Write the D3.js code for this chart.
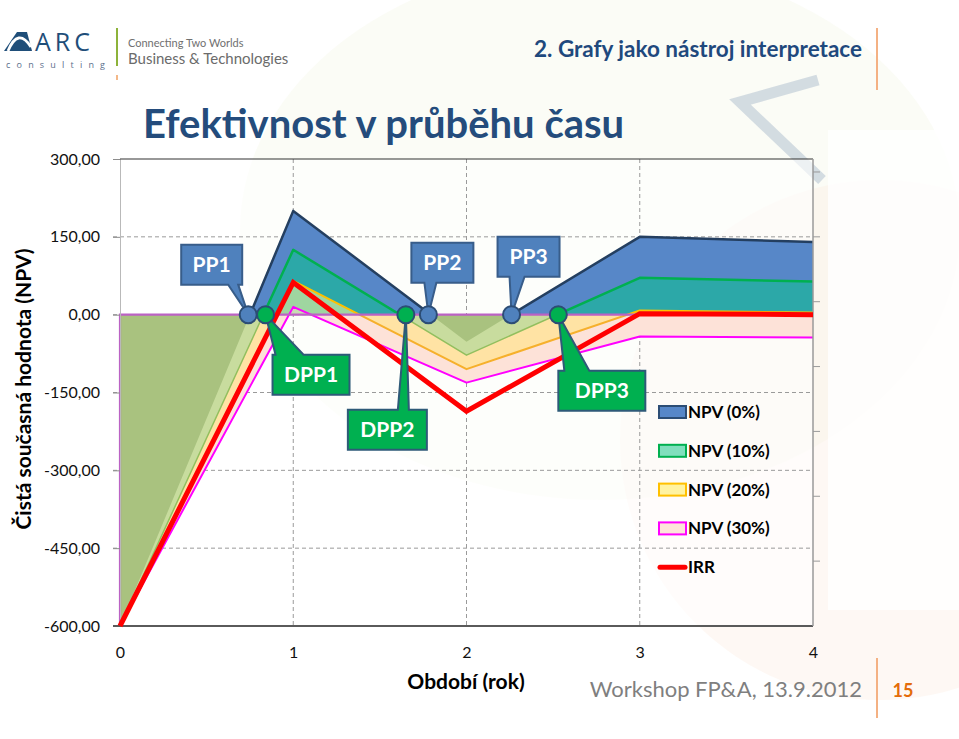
<!DOCTYPE html>
<html lang="cs">
<head>
<meta charset="UTF-8">
<title>Efektivnost v průběhu času</title>
<script src="https://d3js.org/d3.v7.min.js"></script>
<style>
  body { margin: 0; background: #fff; font-family: Lato, "Open Sans", sans-serif; }
  svg { display: block; }
</style>
</head>
<body>
<div id="chart"></div>
<script>
// ---- data ----
var periods = [0, 1, 2, 3, 4];
var npv0  = [-600, 200, -52, 150, 140];
var npv10 = [-600, 125, -78, 71, 64];
var npv20 = [-600, 65, -105, 8, 4];
var npv30 = [-600, 15, -131, -42, -44];
var irr   = [-600, 62, -186, 2, 0];

var legendNames = ['NPV (0%)', 'NPV (10%)', 'NPV (20%)', 'NPV (30%)', 'IRR'];
var yTicks = [300, 150, 0, -150, -300, -450, -600];
var xTicks = [0, 1, 2, 3, 4];

// payback points (where the lines cross zero)
var ppLabels = ['PP1', 'PP2', 'PP3'];
var ppX = [0.74, 1.78, 2.26];
var dppLabels = ['DPP1', 'DPP2', 'DPP3'];
var dppX = [0.84, 1.65, 2.53];

var W = 959, H = 739;
var m = {top: 159, left: 120, right: 146, bottom: 113};

var svg = d3.select('#chart').append('svg')
    .attr('width', W)
    .attr('height', H);

var defs = svg.append('defs');

// ---- faint slide background decoration ----
var deco = svg.append('g').attr('id', 'deco');
deco.append('ellipse')
    .attr('cx', 600).attr('cy', 230).attr('rx', 360).attr('ry', 270)
    .style('fill', '#f3f6e4').style('opacity', 0.35);
deco.append('circle')
    .attr('cx', 880).attr('cy', 440).attr('r', 260)
    .style('fill', '#fdeee3').style('opacity', 0.4);
deco.append('path')
    .attr('d', 'M818,80 L740,102 L822,180')
    .style('fill', 'none').style('stroke', '#b9c6d3')
    .style('stroke-width', 11).style('opacity', 0.6);
deco.append('rect')
    .attr('x', 828).attr('y', 130).attr('width', 131).attr('height', 480)
    .style('fill', '#fff').style('opacity', 0.8);

var x = d3.scaleLinear().domain([0, 4]).range([m.left, W - m.right]);
var y = d3.scaleLinear().domain([-600, 300]).range([H - m.bottom, m.top]);
var y0 = y(0);

// plot background
svg.append('rect')
    .attr('x', x(0)).attr('y', y(300))
    .attr('width', x(4) - x(0)).attr('height', y(-600) - y(300))
    .style('fill', '#fff').style('opacity', 0.6);

// ---- grid ----
var grid = svg.append('g').attr('id', 'grid');
grid.selectAll('line.h')
    .data(yTicks.filter(function(d){ return d > -600 && d < 300; }))
    .enter().append('line')
    .attr('x1', x(0) - 7).attr('x2', x(4))
    .attr('y1', function(d){ return y(d); })
    .attr('y2', function(d){ return y(d); })
    .style('stroke', '#9a9a9a').style('stroke-dasharray', '4,3');
grid.selectAll('line.v')
    .data([1, 2, 3])
    .enter().append('line')
    .attr('x1', function(d){ return x(d); })
    .attr('x2', function(d){ return x(d); })
    .attr('y1', y(300)).attr('y2', y(-600))
    .style('stroke', '#9a9a9a').style('stroke-dasharray', '4,3');

// clip paths for the parts above and below zero
defs.append('clipPath').attr('id', 'clipPos')
    .append('rect').attr('x', 0).attr('y', 0).attr('width', W).attr('height', y0);
defs.append('clipPath').attr('id', 'clipNeg')
    .append('rect').attr('x', 0).attr('y', y0).attr('width', W).attr('height', H - y0);

function area(vals) {
    return d3.area()
        .x(function(d, i){ return x(periods[i]); })
        .y0(y0)
        .y1(function(d){ return y(d); })(vals);
}
function line(vals) {
    return d3.line()
        .x(function(d, i){ return x(periods[i]); })
        .y(function(d){ return y(d); })(vals);
}

var series = [
    {vals: npv0,  pos: '#5787c8', neg: '#a9c27f', posLine: '#243f60', posW: 2.5, negLine: 'none', negW: 0},
    {vals: npv10, pos: '#2ca8a8', neg: '#c8dc9e', posLine: '#00b050', posW: 2.5, negLine: '#92bf5e', negW: 1.5},
    {vals: npv20, pos: '#9fd6a0', neg: '#ffe3a4', posLine: '#ffc000', posW: 2, negLine: '#f6b02c', negW: 2},
    {vals: npv30, pos: '#c9dcb4', neg: '#fde2d8', posLine: '#ff00ff', posW: 2, negLine: '#ff00ff', negW: 2}
];

var areas = svg.append('g').attr('id', 'areas');
// positive parts: biggest first
series.forEach(function(s){
    areas.append('path').attr('d', area(s.vals))
        .attr('clip-path', 'url(#clipPos)')
        .style('fill', s.pos);
});
// negative parts: deepest first
series.slice().reverse().forEach(function(s){
    areas.append('path').attr('d', area(s.vals))
        .attr('clip-path', 'url(#clipNeg)')
        .style('fill', s.neg);
});

var lines = svg.append('g').attr('id', 'lines');
series.slice().reverse().forEach(function(s){
    if (s.negLine !== 'none') {
        lines.append('path').attr('d', line(s.vals))
            .attr('clip-path', 'url(#clipNeg)')
            .style('fill', 'none').style('stroke', s.negLine)
            .style('stroke-width', s.negW).style('stroke-linejoin', 'round');
    }
});
series.slice().reverse().forEach(function(s){
    lines.append('path').attr('d', line(s.vals))
        .attr('clip-path', 'url(#clipPos)')
        .style('fill', 'none').style('stroke', s.posLine)
        .style('stroke-width', s.posW).style('stroke-linejoin', 'round');
});

// border of the 30% area along the zero line and left edge
lines.append('path')
    .attr('d', 'M' + x(0) + ',' + y(-600) + 'V' + y0 + 'H' + x(4))
    .style('fill', 'none').style('stroke', '#bb62c4').style('stroke-width', 2.2);

// ---- axes ----
var loc = d3.formatLocale({decimal: ',', thousands: ' ', grouping: [3], currency: ['', ''], minus: '-'});
var fmt = loc.format('.2f');

var yAxis = d3.axisLeft(y).tickValues(yTicks).tickFormat(fmt).tickSize(7).tickPadding(13);
var gy = svg.append('g').attr('id', 'y-axis')
    .attr('transform', 'translate(' + x(0) + ',0)')
    .call(yAxis);
gy.select('.domain').style('stroke', '#b9b9b9');
gy.selectAll('.tick line').style('stroke', '#8c8c8c');
gy.selectAll('text').style('font-family', 'Lato').style('font-size', '16px').style('fill', '#111');

var xAxis = d3.axisBottom(x).tickValues(xTicks).tickFormat(d3.format('d')).tickSize(0).tickPadding(21);
var gx = svg.append('g').attr('id', 'x-axis')
    .attr('transform', 'translate(0,' + y(-600) + ')')
    .call(xAxis);
gx.select('.domain').remove();
gx.selectAll('text').style('font-family', 'Lato').style('font-size', '16px').style('fill', '#111');

svg.append('line')
    .attr('x1', x(0) - 7).attr('x2', x(4))
    .attr('y1', y(-600)).attr('y2', y(-600))
    .style('stroke', '#5a5a5a').style('stroke-width', 2);
svg.append('line')
    .attr('x1', x(0)).attr('x2', x(4))
    .attr('y1', y(300)).attr('y2', y(300))
    .style('stroke', '#333').style('stroke-width', 1.2);
svg.append('line')
    .attr('x1', x(4)).attr('x2', x(4))
    .attr('y1', y(300)).attr('y2', y(-600))
    .style('stroke', '#9a9a9a').style('stroke-width', 1.5);

// unlabeled secondary ticks on the right edge
var yRight = d3.scaleLinear().domain([0, 7.2]).range([y(-600), y(300)]);
svg.selectAll('line.rt')
    .data(d3.range(1, 8))
    .enter().append('line')
    .attr('x1', x(4)).attr('x2', x(4) + 7)
    .attr('y1', function(d){ return yRight(d); })
    .attr('y2', function(d){ return yRight(d); })
    .style('stroke', '#9a9a9a');

// IRR line on top
svg.append('path').attr('d', line(irr))
    .style('fill', 'none').style('stroke', '#ff0000')
    .style('stroke-width', 5).style('stroke-linejoin', 'miter');

// ---- callouts ----
var layout = {
    PP1:  {dx: -67, dy: -70, w: 61, h: 40, b0: 47, b1: 57, up: true},
    PP2:  {dx: -17, dy: -72, w: 62, h: 40, b0: 13, b1: 25, up: true},
    PP3:  {dx: -14, dy: -78, w: 62, h: 40, b0: 12, b1: 27, up: true},
    DPP1: {dx: 7,   dy: 40,  w: 77, h: 40, b0: 3,  b1: 31, up: false},
    DPP2: {dx: -58, dy: 95,  w: 79, h: 40, b0: 50, b1: 61, up: false},
    DPP3: {dx: 0,   dy: 56,  w: 87, h: 40, b0: 6,  b1: 31, up: false}
};

function callout(label, xv, fill, stroke) {
    var L = layout[label];
    var px = x(xv), py = y0;
    var x0 = px + L.dx, y1 = py + L.dy, x1 = x0 + L.w, y2 = y1 + L.h;
    var d;
    if (L.up) {
        d = 'M' + x0 + ',' + y1 + 'L' + x1 + ',' + y1 + 'L' + x1 + ',' + y2 +
            'L' + (x0 + L.b1) + ',' + y2 + 'L' + px + ',' + py +
            'L' + (x0 + L.b0) + ',' + y2 + 'L' + x0 + ',' + y2 + 'Z';
    } else {
        d = 'M' + x0 + ',' + y1 + 'L' + (x0 + L.b0) + ',' + y1 + 'L' + px + ',' + py +
            'L' + (x0 + L.b1) + ',' + y1 + 'L' + x1 + ',' + y1 + 'L' + x1 + ',' + y2 +
            'L' + x0 + ',' + y2 + 'Z';
    }
    var g = svg.append('g').attr('class', 'callout');
    g.append('path').attr('d', d)
        .style('fill', fill).style('stroke', stroke).style('stroke-width', 2)
        .style('stroke-linejoin', 'miter');
    g.append('text')
        .attr('x', (x0 + x1) / 2).attr('y', y1 + L.h / 2 + 7)
        .attr('text-anchor', 'middle')
        .style('font-family', 'Lato').style('font-weight', 'bold')
        .style('font-size', '21px').style('fill', '#fff')
        .text(label);
}

ppLabels.forEach(function(l, i){ callout(l, ppX[i], '#4f81bd', '#385d8a'); });
dppLabels.forEach(function(l, i){ callout(l, dppX[i], '#00b050', '#2e5a78'); });

svg.selectAll('circle.pp')
    .data(ppX).enter().append('circle')
    .attr('cx', function(d){ return x(d); }).attr('cy', y0).attr('r', 8.5)
    .style('fill', '#4f81bd').style('stroke', '#2c4d75').style('stroke-width', 2);
svg.selectAll('circle.dpp')
    .data(dppX).enter().append('circle')
    .attr('cx', function(d){ return x(d); }).attr('cy', y0).attr('r', 8.5)
    .style('fill', '#00b050').style('stroke', '#2c4d75').style('stroke-width', 2);

// ---- legend ----
var swatches = [
    {fill: '#5787c8', stroke: '#2c4d75'},
    {fill: '#80dfbd', stroke: '#00b050'},
    {fill: '#fff3a2', stroke: '#ffc000'},
    {fill: '#fde4da', stroke: '#ff00ff'},
    {line: '#ff0000'}
];
var legend = svg.append('g').attr('id', 'legend');
legendNames.forEach(function(name, i){
    var cy = 412 + i * 38.8;
    var s = swatches[i];
    if (s.line) {
        legend.append('line')
            .attr('x1', 660).attr('x2', 685).attr('y1', cy).attr('y2', cy)
            .style('stroke', s.line).style('stroke-width', 5).style('stroke-linecap', 'round');
    } else {
        legend.append('rect')
            .attr('x', 659).attr('y', cy - 6).attr('width', 27).attr('height', 12)
            .style('fill', s.fill).style('stroke', s.stroke).style('stroke-width', 2);
    }
    legend.append('text')
        .attr('x', 688).attr('y', cy + 6)
        .style('font-family', 'Lato').style('font-weight', 'bold')
        .style('font-size', '17px').style('fill', '#000')
        .text(name);
});

// ---- axis titles ----
svg.append('text')
    .attr('transform', 'translate(31,' + 389 + ') rotate(-90)')
    .attr('text-anchor', 'middle')
    .style('font-family', 'Lato').style('font-weight', 'bold')
    .style('font-size', '21px').style('fill', '#000')
    .text('Čistá současná hodnota (NPV)');
svg.append('text')
    .attr('x', 466).attr('y', 689)
    .attr('text-anchor', 'middle')
    .style('font-family', 'Lato').style('font-weight', 'bold')
    .style('font-size', '21px').style('fill', '#000')
    .text('Období (rok)');

// ---- slide header ----
svg.append('text')
    .attr('x', 143).attr('y', 138)
    .style('font-family', 'Lato').style('font-weight', 'bold')
    .style('font-size', '40px').style('fill', '#244c7c')
    .text('Efektivnost v průběhu času');
svg.append('text')
    .attr('x', 862).attr('y', 57)
    .attr('text-anchor', 'end')
    .style('font-family', 'Lato').style('font-weight', 'bold')
    .style('font-size', '22.5px').style('fill', '#1f497d')
    .text('2. Grafy jako nástroj interpretace');
svg.append('line')
    .attr('x1', 877).attr('x2', 877).attr('y1', 28).attr('y2', 90)
    .style('stroke', '#f4b183').style('stroke-width', 2);

// logo
var logo = svg.append('g').attr('id', 'logo');
logo.append('path')
    .attr('d', 'M4,51 L17,32 L27,32 L32,51 Z')
    .style('fill', '#1f4e79');
logo.append('path')
    .attr('d', 'M8,51 Q18,27 31,47')
    .style('fill', 'none').style('stroke', '#fff').style('stroke-width', 2.8);
logo.append('text')
    .attr('x', 35).attr('y', 51)
    .style('font-family', 'Open Sans').style('font-size', '25px')
    .style('letter-spacing', '4px').style('fill', '#1f4e79')
    .text('ARC');
logo.append('text')
    .attr('x', 6).attr('y', 68)
    .style('font-family', 'Open Sans').style('font-size', '9px')
    .style('letter-spacing', '6.2px').style('fill', '#5b6f8c')
    .text('consulting');
logo.append('line')
    .attr('x1', 117).attr('x2', 117).attr('y1', 28).attr('y2', 66)
    .style('stroke', '#8db33a').style('stroke-width', 2);
logo.append('line')
    .attr('x1', 117).attr('x2', 117).attr('y1', 75).attr('y2', 80)
    .style('stroke', '#f0a060').style('stroke-width', 1.5);
logo.append('text')
    .attr('x', 128).attr('y', 47)
    .style('font-family', 'Lato').style('font-size', '11px').style('fill', '#707070')
    .text('Connecting Two Worlds');
logo.append('text')
    .attr('x', 128).attr('y', 64)
    .style('font-family', 'Lato').style('font-size', '15px').style('fill', '#6b6b6b')
    .text('Business & Technologies');

// ---- footer ----
svg.append('text')
    .attr('x', 862).attr('y', 697)
    .attr('text-anchor', 'end')
    .style('font-family', 'Lato').style('font-size', '22px').style('fill', '#7f7f7f')
    .text('Workshop FP&A, 13.9.2012');
svg.append('line')
    .attr('x1', 877).attr('x2', 877).attr('y1', 658).attr('y2', 718)
    .style('stroke', '#f4b183').style('stroke-width', 2);
svg.append('text')
    .attr('x', 903).attr('y', 697)
    .attr('text-anchor', 'middle')
    .style('font-family', 'Lato').style('font-weight', 'bold')
    .style('font-size', '18px').style('fill', '#e46c0a')
    .text('15');
</script>
</body>
</html>
